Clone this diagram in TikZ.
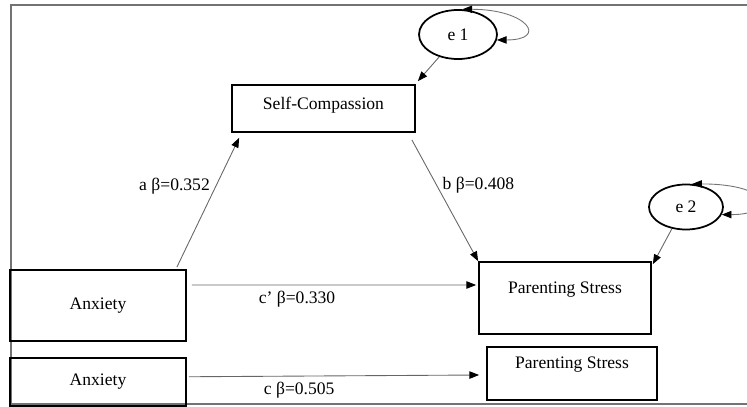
\documentclass[tikz,border=0pt]{standalone}
\usepackage{fontspec}
\setmainfont{Liberation Serif}
\usetikzlibrary{positioning, arrows.meta, shapes.geometric}

\begin{document}
\begin{tikzpicture}[
  box/.style={draw, line width=1pt, minimum width=3.52cm, align=center, font=\fontsize{10}{12}\selectfont},
  err/.style={draw, ellipse, line width=1pt, inner sep=0pt, font=\fontsize{10}{12}\selectfont},
  coef/.style={font=\fontsize{10}{12}\selectfont},
  >={Triangle[length=5.5pt, width=4.2pt, color=black]},
  arr/.style={->, draw=black!60, line width=0.5pt},
  varr/.style={<->, draw=black!55, line width=0.5pt},
  frame/.style={draw=black!55, line width=0.9pt}
]
  \useasboundingbox (0,0) rectangle (14.94,-8.14);
  \draw[frame] (14.94,-0.1) -- (0.22,-0.1) -- (0.22,-8.08) -- (14.94,-8.08);

  % mediation model
  \node[box, minimum height=1.42cm] (anx1) at (1.96,-6.11) {Anxiety};
  \node[box, minimum width=3.66cm, minimum height=0.94cm, text depth=5.5pt] (sc) at (6.47,-2.17) {Self-Compassion};
  \node[box, minimum width=3.44cm, minimum height=1.44cm, text depth=12pt] (ps1) at (11.30,-5.96) {Parenting Stress};
  \node[err, minimum width=1.56cm, minimum height=0.98cm] (e1) at (9.16,-0.69) {e 1};
  \node[err, minimum width=1.48cm, minimum height=0.90cm] (e2) at (13.72,-4.14) {e 2};

  % total effect
  \node[box, minimum height=0.96cm, below=0.3 of anx1] (anx2) {Anxiety};
  \node[box, minimum width=3.40cm, minimum height=1.06cm, text depth=12pt] (ps2) at (11.44,-7.47) {Parenting Stress};

  \draw[arr] ([shift={(-0.2,0.04)}]anx1.north east) -- node[coef, left, pos=0.63] {a β=0.352} ([shift={(0.16,-0.1)}]sc.south west);
  \draw[arr] ([shift={(-0.08,-0.14)}]sc.south east) -- node[coef, right, pos=0.37] {b β=0.408} (ps1.north west);
  \draw[arr] ([shift={(0.1,0.41)}]anx1.east) -- node[coef, below, pos=0.37] {c’ β=0.330} ([shift={(-0.04,0.26)}]ps1.west);
  \draw[arr] ([shift={(0.04,0.1)}]anx2.east) -- node[coef, below, pos=0.38] {c β=0.505} ([shift={(-0.14,-0.03)}]ps2.west);

  \draw[arr] (e1.-130) -- ([shift={(0.04,0.06)}]sc.north east);
  \draw[arr] (e2.-123) -- ([shift={(0.02,-0.06)}]ps1.north east);
  \draw[varr] (e1.80) .. controls +(1.3,0) and +(1.04,0) .. (e1.-8);
  \draw[varr] (e2.75) .. controls +(1.6,0) and +(1.12,0) .. (e2.-12);
\end{tikzpicture}
\end{document}
